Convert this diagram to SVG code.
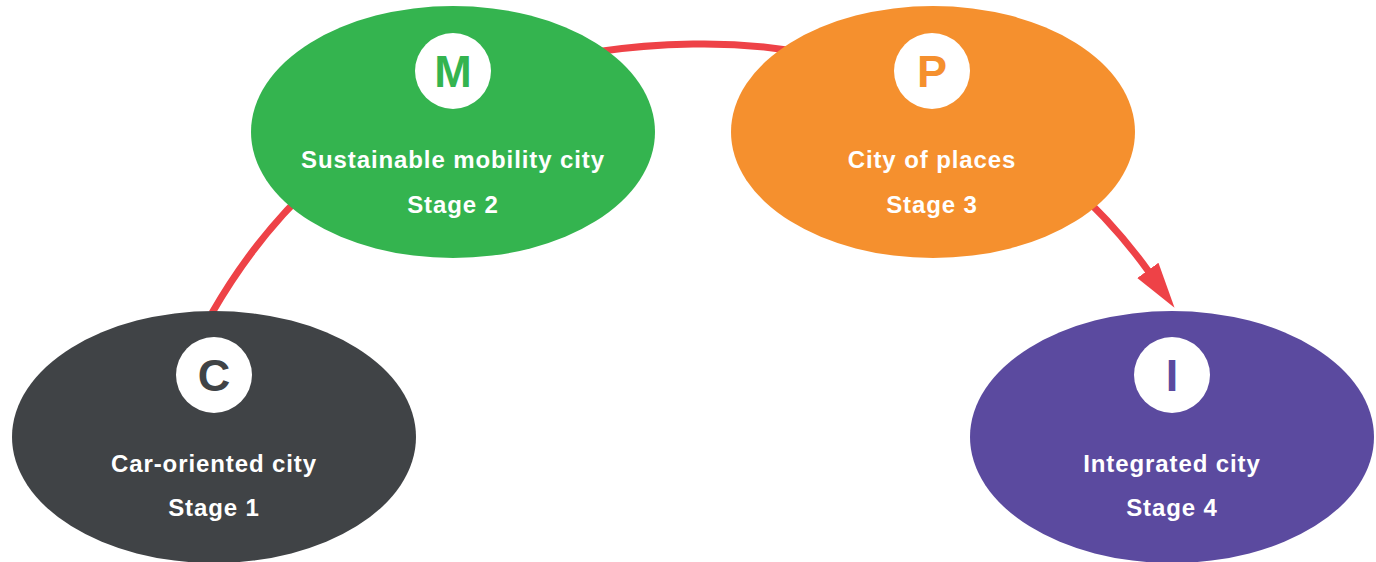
<svg xmlns="http://www.w3.org/2000/svg" width="1376" height="562" viewBox="0 0 1376 562">
<style>
.lbl{font-family:"Liberation Sans",Arial,sans-serif;font-weight:bold;font-size:24px;letter-spacing:0.9px;fill:#fff;text-anchor:middle}
.ico{font-family:"Liberation Sans",Arial,sans-serif;font-weight:bold;font-size:45px;text-anchor:middle}
.badge{fill:#fff}
.conn{fill:none;stroke:#EE4247;stroke-width:7}
</style>
<defs>
<marker id="ah" markerUnits="userSpaceOnUse" markerWidth="50" markerHeight="30" refX="2" refY="13" orient="auto" viewBox="0 0 50 26">
<path d="M0,0 L46,13 L0,26 z" fill="#EE4247"/>
</marker>
</defs>
<rect width="1376" height="562" fill="#fff"/>
<g id="connectors">
<path class="conn" d="M212,313 C300,160 450,48 693,44 C900,40 1062,150 1149,272" marker-end="url(#ah)"/>
</g>
<g id="node-c">
<ellipse cx="214" cy="437" rx="202" ry="126" fill="#404346"/>
<circle class="badge" cx="214" cy="375" r="38"/>
<text class="ico" x="214" y="391" fill="#404346">C</text>
<text class="lbl" x="214" y="472">Car-oriented city</text>
<text class="lbl" x="214" y="516">Stage 1</text>
</g>
<g id="node-m">
<ellipse cx="453" cy="132" rx="202" ry="126" fill="#34B44F"/>
<circle class="badge" cx="453" cy="71" r="38"/>
<text class="ico" x="453" y="87" fill="#34B44F">M</text>
<text class="lbl" x="453" y="168">Sustainable mobility city</text>
<text class="lbl" x="453" y="213">Stage 2</text>
</g>
<g id="node-p">
<ellipse cx="933" cy="132" rx="202" ry="126" fill="#F5902E"/>
<circle class="badge" cx="932" cy="71" r="38"/>
<text class="ico" x="932" y="87" fill="#F5902E">P</text>
<text class="lbl" x="932" y="168">City of places</text>
<text class="lbl" x="932" y="213">Stage 3</text>
</g>
<g id="node-i">
<ellipse cx="1172" cy="437" rx="202" ry="126" fill="#5B4A9F"/>
<circle class="badge" cx="1172" cy="375" r="38"/>
<text class="ico" x="1172" y="391" fill="#5B4A9F">I</text>
<text class="lbl" x="1172" y="472">Integrated city</text>
<text class="lbl" x="1172" y="516">Stage 4</text>
</g>
</svg>
